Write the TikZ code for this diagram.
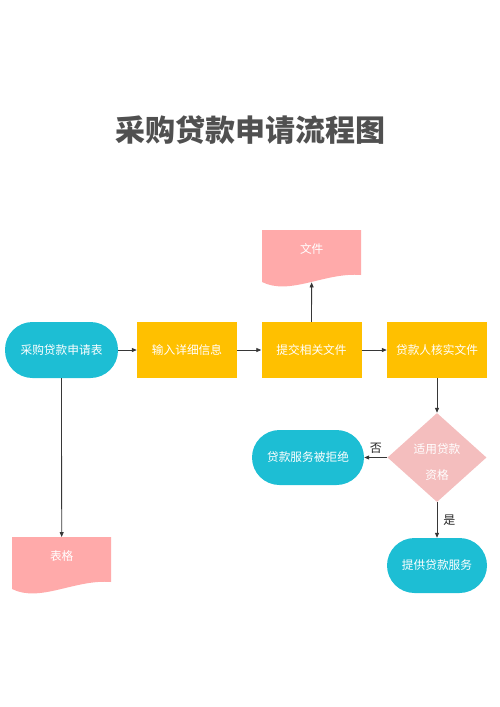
\documentclass[tikz,border=0pt]{standalone}
\usepackage{fontspec}
\setmainfont{Noto Sans CJK SC}
\usetikzlibrary{shapes.geometric,arrows.meta}
\definecolor{termblue}{RGB}{29,190,212}
\definecolor{stepyellow}{RGB}{255,192,0}
\definecolor{docpink}{RGB}{255,170,170}
\definecolor{askpink}{RGB}{244,190,190}
\definecolor{titlegray}{RGB}{80,80,80}
\definecolor{linegray}{RGB}{55,55,55}
\begin{document}
\begin{tikzpicture}[x=1pt,y=-1pt,
  every node/.style={font=\fontsize{11.7}{14}\selectfont,text=white,inner sep=0pt},
  term/.style={fill=termblue,rounded corners=27.5pt,minimum width=112pt,minimum height=55pt},
  stepbox/.style={fill=stepyellow,minimum width=100pt,minimum height=56pt},
  ask/.style={diamond,fill=askpink,minimum width=99pt,minimum height=89pt,font=\fontsize{11.7}{26}\selectfont},
  answer/.style={text=black!85,font=\fontsize{12}{14}\selectfont},
  link/.style={draw=linegray,line width=0.8pt,-{Triangle[length=5pt,width=4pt]}}]
\useasboundingbox (0,0) rectangle (500,707);

\node[font=\fontsize{30}{36}\selectfont\bfseries,text=titlegray] (title) at (250,130) {采购贷款申请流程图};

\node[term,minimum width=113pt,minimum height=56pt] (apply) at (61.5,350) {采购贷款申请表};
\foreach \n/\x/\t in {input/187/输入详细信息,submit/311.5/提交相关文件,check/437/贷款人核实文件}
  \node[stepbox] (\n) at (\x,350) {\t};

\foreach \n/\x/\y/\t in {file/262/230/文件,form/12/537/表格}
 {\fill[docpink] (\x,\y) -- ++(99,0) -- ++(0,45) .. controls +(-36,-3) and +(28,14) .. ++(-99,7) -- cycle;
  \node[minimum width=99pt,minimum height=52pt,anchor=north west] (\n) at (\x,\y) {\raisebox{2.6pt}[0pt][0pt]{\t}};
 };

\node[ask] (fit) at (437,457.5) {\raisebox{-7.5pt}[0pt][0pt]{\parbox{50pt}{\centering 适用贷款\\资格}}};
\node[term] (reject) at (308,457.5) {贷款服务被拒绝};
\node[term,minimum width=100pt] (offer) at (437,565.5) {提供贷款服务};

\foreach \a/\b in {apply/input,input/submit,submit/check,submit/file,check/fit,apply/form}
  \draw[link] (\a) -- (\b);
\draw[link] (fit) -- node[answer,above=4pt]{否} (reject);
\draw[link] (fit) -- node[answer,right=6pt]{是} (offer);
\end{tikzpicture}
\end{document}
